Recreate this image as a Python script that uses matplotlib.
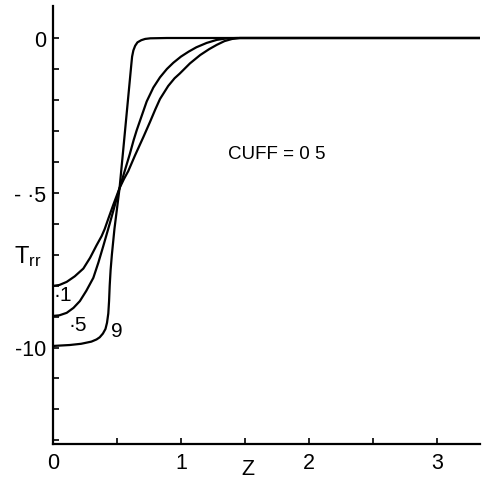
import matplotlib
matplotlib.use("Agg")
import matplotlib.pyplot as plt

plt.rcParams['font.family'] = ['Liberation Sans', 'DejaVu Sans']

# Curve data (Z, Trr)
z_1 = [0.0, 0.05, 0.107, 0.17, 0.237, 0.29, 0.34, 0.38, 0.404, 0.432, 0.47,
       0.52, 0.555, 0.588, 0.64, 0.706, 0.757, 0.80, 0.836, 0.90, 0.95, 0.99,
       1.07, 1.15, 1.22, 1.28, 1.34, 1.40, 1.46, 2.0, 3.34]
t_1 = [-8.01, -7.98, -7.88, -7.7, -7.45, -7.1, -6.7, -6.4, -6.17, -5.84, -5.4,
       -4.85, -4.55, -4.3, -3.8, -3.2, -2.72, -2.3, -1.97, -1.55, -1.3, -1.15,
       -0.82, -0.55, -0.36, -0.22, -0.1, -0.03, 0.0, 0.0, 0.0]

z_5 = [0.0, 0.05, 0.107, 0.16, 0.21, 0.26, 0.315, 0.355, 0.393, 0.443, 0.47,
       0.52, 0.56, 0.60, 0.63, 0.654, 0.69, 0.732, 0.784, 0.836, 0.89, 0.94,
       1.0, 1.06, 1.12, 1.2, 1.28, 1.36, 1.44, 2.0, 3.34]
t_5 = [-8.98, -8.96, -8.88, -8.72, -8.5, -8.17, -7.75, -7.25, -6.72, -6.0, -5.6,
       -4.85, -4.3, -3.75, -3.3, -2.98, -2.55, -2.05, -1.6, -1.27, -1.0, -0.8,
       -0.6, -0.44, -0.3, -0.16, -0.06, -0.01, 0.0, 0.0, 0.0]

z_9 = [0.0, 0.13, 0.22, 0.30, 0.34, 0.365, 0.39, 0.41, 0.422, 0.432, 0.438,
       0.443, 0.45, 0.46, 0.48, 0.52, 0.549, 0.579, 0.612, 0.618, 0.628, 0.642,
       0.66, 0.69, 0.72, 0.76, 0.89, 1.5, 3.34]
t_9 = [-9.95, -9.92, -9.88, -9.81, -9.74, -9.67, -9.55, -9.4, -9.2, -8.9, -8.5,
       -8.0, -7.5, -7.0, -6.17, -4.85, -3.6, -2.29, -0.85, -0.6, -0.4, -0.25,
       -0.14, -0.07, -0.03, -0.01, 0.0, 0.0, 0.0]

curve_labels = ['·1', '·5', '9']
curve_label_pos = [(0.08, -8.3), (0.19, -9.25), (0.50, -9.45)]

x_ticks_major = [0, 1, 2, 3]
x_ticks_minor = [0.5, 1.5, 2.5]
y_ticks = list(range(-13, 1))
y_tick_labels = {0: '0', -5: '- ·5', -10: '-10'}

fig = plt.figure(figsize=(4.82, 4.81), dpi=100)
ax = fig.add_axes([53/482, 1 - 445/481, (480 - 53)/482, (445 - 7)/481])

for z, t in [(z_1, t_1), (z_5, t_5), (z_9, t_9)]:
    ax.plot(z, t, color='black', lw=1.6, solid_capstyle='round', solid_joinstyle='round')

for lab, (x, y) in zip(curve_labels, curve_label_pos):
    ax.text(x, y, lab, fontsize=15, ha='center', va='center')

ax.text(1.37, -3.74, 'CUFF = 0 5', fontsize=13.5, ha='left', va='center')

ax.set_xlim(0, 427/128)
ax.set_ylim((39 - 445)/30.95, (39 - 7)/30.95)

ax.spines['top'].set_visible(False)
ax.spines['right'].set_visible(False)
ax.spines['left'].set_linewidth(1.6)
ax.spines['bottom'].set_linewidth(1.6)

ax.set_xticks(x_ticks_major)
ax.set_xticks(x_ticks_minor, minor=True)
ax.set_xticklabels([str(v) for v in x_ticks_major])
ax.set_yticks(y_ticks)
ax.set_yticklabels([y_tick_labels.get(v, '') for v in y_ticks])

ax.tick_params(axis='both', which='both', direction='in', length=4, width=1.2,
               labelsize=15.5, colors='black')
ax.tick_params(axis='x', pad=6)
ax.tick_params(axis='y', pad=5)

fig.text(248/482, 1 - 470/481, 'Z', fontsize=15.5, ha='center', va='center')
fig.text(14/482, 1 - 257/481, r'$\mathregular{T_{rr}}$', fontsize=17, ha='left', va='center')

fig.savefig('out.png', dpi=100)
